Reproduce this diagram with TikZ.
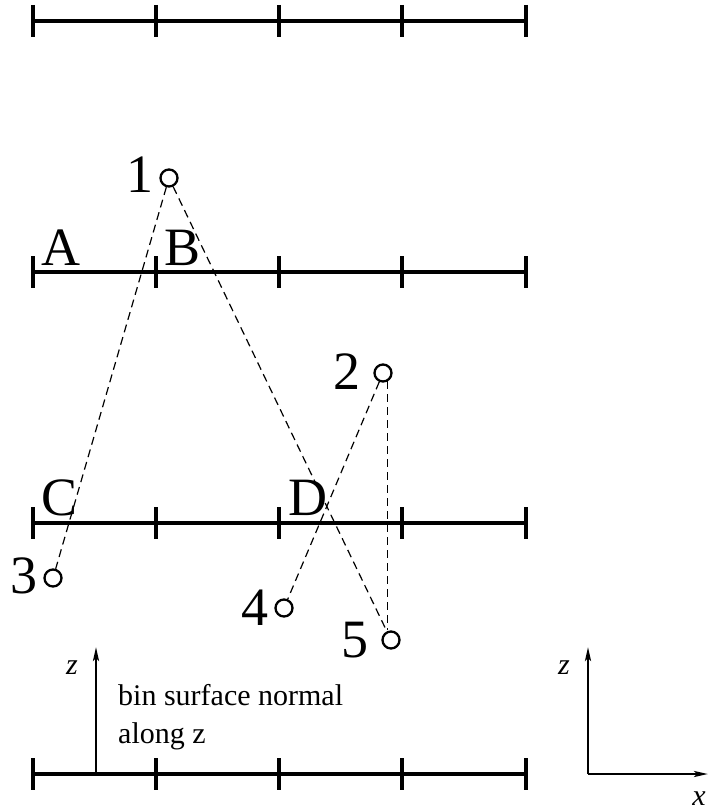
\documentclass[tikz,border=0pt]{standalone}
\usepackage{fontspec}
\setmainfont{Liberation Serif}
\usetikzlibrary{arrows.meta}
\begin{document}
\begin{tikzpicture}[x=1pt,y=-1pt,
  bar/.style={line width=3.1pt},
  big/.style={font=\fontsize{54}{60}\selectfont, inner sep=0pt, anchor=base},
  small/.style={font=\fontsize{30}{34}\selectfont, inner sep=0pt, anchor=base west},
  ital/.style={font=\fontsize{30}{34}\selectfont\itshape, inner sep=0pt, anchor=base},
  pt/.style={circle, draw, line width=2.3pt, minimum size=17pt, inner sep=0pt},
  path/.style={line width=1.2pt, dash pattern=on 8pt off 5pt},
  axis/.style={line width=2.4pt, -{Stealth[length=14pt,width=6pt,inset=3pt]}}]
\useasboundingbox (0,0) rectangle (711,810);
% bars
\foreach \y in {21,272,523,774}{
  \draw[bar] (33,\y) -- (526,\y);
  \foreach \x in {33,156,279,402,526}{
    \draw[bar] (\x,\y-16) -- (\x,\y+16);
  }
}
% points
\node[pt] (p1) at (169,178) {};
\node[pt] (p2) at (383,373) {};
\node[pt] (p3) at (53,578) {};
\node[pt] (p4) at (284,608) {};
\node[pt] (p5) at (391,640) {};
% point labels
\node[big] (l1) at (140,193) {1};
\node[big] (l2) at (347,389) {2};
\node[big] (l3) at (24,593) {3};
\node[big] (l4) at (255,625) {4};
\node[big] (l5) at (355,657) {5};
\node[big] (la) at (61,265) {A};
\node[big] (lb) at (183,265) {B};
\node[big] (lc) at (60,515) {C};
\node[big] (ld) at (308,515) {D};
% dashed paths
\draw[path] (p1) -- (p3);
\draw[path] (p1) -- (p5);
\draw[path] (p2) -- (p4);
\draw[path] (p2.-60) -- (p2.-60 |- p5.north);
% normal arrow
\coordinate (n0) at (96,774);
\coordinate (n1) at (96,647);
\draw[axis] (n0) -- (n1);
\node[ital] (zl) at (72,674) {z};
\node[small] (t1) at (118,705) {bin surface normal};
\node[small] (t2) at (118,743) {along z};
% axes
\coordinate (o) at (588,774);
\coordinate (oz) at (588,647);
\coordinate (ox) at (708,774);
\draw[axis] (o) -- (oz);
\draw[axis] (o) -- (ox);
\node[ital] (zr) at (564,674) {z};
\node[ital] (xr) at (699,805) {x};
\end{tikzpicture}
\end{document}
